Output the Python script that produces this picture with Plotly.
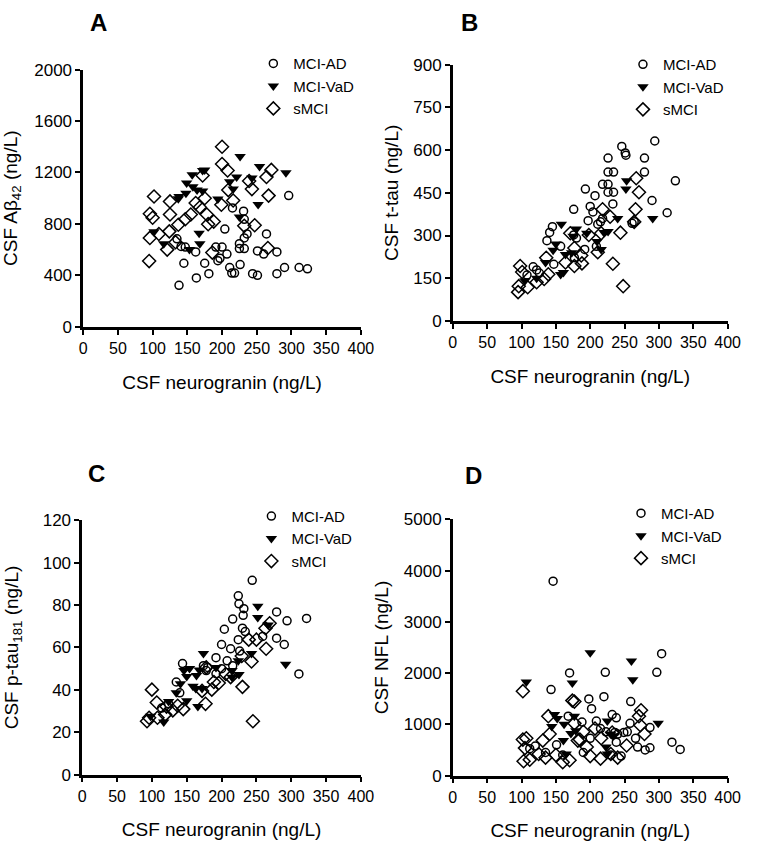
import plotly.graph_objects as go

# ---------------- DATA ----------------
# Panel A: CSF neurogranin vs CSF Abeta42
A_AD_x = [296, 215, 231, 204, 232, 236, 232, 264, 135, 225, 225, 232, 141, 147, 162, 191, 200, 251, 260, 279, 207, 194, 197, 145, 175, 226, 211, 290, 311, 323, 214, 218, 181, 244, 251, 279, 163, 138]
A_AD_y = [1020, 924, 899, 760, 836, 722, 691, 722, 684, 646, 608, 608, 625, 620, 582, 620, 620, 590, 565, 582, 565, 514, 532, 494, 494, 484, 461, 461, 461, 451, 418, 418, 413, 413, 400, 413, 380, 322]
A_VaD_x = [226, 254, 292, 172, 175, 157, 221, 243, 211, 149, 158, 164, 172, 216, 138, 148, 137, 194, 252, 225, 167, 168, 102, 116, 153]
A_VaD_y = [1324, 1246, 1198, 1215, 1220, 1182, 1165, 1157, 1127, 1119, 1089, 1063, 1056, 1071, 1013, 1038, 995, 993, 950, 853, 727, 646, 739, 646, 600]
A_sMCI_x = [200, 200, 208, 271, 264, 172, 239, 209, 243, 267, 102, 175, 125, 216, 199, 162, 168, 96, 100, 125, 155, 147, 178, 180, 188, 137, 232, 247, 124, 109, 96, 133, 121, 186, 266, 95]
A_sMCI_y = [1400, 1266, 1215, 1220, 1165, 1177, 1134, 1063, 1071, 1020, 1013, 1000, 975, 982, 949, 962, 929, 879, 848, 873, 873, 836, 873, 798, 818, 793, 785, 790, 742, 722, 691, 658, 600, 577, 613, 511]

# Panel B: CSF neurogranin vs CSF t-tau
B_AD_x = [294, 246, 251, 252, 226, 279, 226, 234, 279, 324, 218, 226, 193, 226, 234, 207, 290, 233, 176, 200, 204, 312, 197, 218, 211, 215, 261, 264, 145, 141, 137, 157, 176, 180, 192, 209, 147, 117, 122, 126, 108, 177]
B_AD_y = [632, 613, 590, 582, 572, 572, 523, 523, 523, 492, 480, 480, 463, 452, 452, 440, 423, 411, 392, 402, 383, 380, 352, 360, 340, 348, 343, 348, 331, 311, 282, 262, 302, 291, 251, 262, 199, 190, 179, 168, 161, 222]
B_VaD_x = [253, 252, 240, 291, 226, 220, 158, 180, 175, 195, 150, 210, 216, 146, 173, 164, 135, 157, 161, 105, 122]
B_VaD_y = [492, 463, 360, 360, 314, 311, 340, 323, 297, 308, 270, 279, 251, 248, 239, 233, 205, 163, 170, 141, 150]
B_sMCI_x = [267, 271, 266, 264, 218, 229, 244, 233, 248, 198, 216, 211, 187, 177, 188, 164, 171, 136, 139, 122, 109, 98, 101, 96, 95, 133, 177]
B_sMCI_y = [501, 452, 392, 348, 392, 366, 310, 201, 122, 302, 308, 241, 230, 193, 202, 205, 308, 222, 164, 136, 118, 193, 172, 122, 101, 147, 256]

# Panel C: CSF neurogranin vs CSF p-tau181
C_AD_x = [244, 224, 225, 232, 279, 322, 294, 216, 231, 204, 230, 234, 259, 279, 224, 290, 200, 213, 226, 192, 208, 216, 144, 174, 180, 192, 200, 311, 135, 140, 114, 124, 178]
C_AD_y = [91.7, 84.4, 80.6, 78.3, 76.8, 73.7, 72.6, 73.4, 75.2, 68.6, 69.1, 67.5, 65.2, 64.4, 63.7, 61.4, 61.4, 59.4, 58.3, 55.2, 53.7, 51.4, 52.4, 51.4, 50.6, 47.6, 50.0, 47.5, 43.7, 38.6, 31.4, 33.4, 49.1]
C_VaD_x = [252, 252, 267, 243, 292, 174, 154, 146, 168, 164, 150, 141, 159, 163, 172, 135, 150, 166, 192, 215, 224, 225, 215, 124, 117, 98]
C_VaD_y = [79.5, 74.1, 70.6, 57.2, 52.1, 57.2, 50.1, 49.1, 49.4, 46.8, 46.3, 42.9, 41.7, 40.6, 40.6, 38.6, 34.9, 32.1, 50.6, 49.1, 53.7, 47.2, 46.0, 34.5, 24.8, 27.5]
C_sMCI_x = [269, 263, 264, 239, 250, 229, 243, 206, 213, 196, 230, 186, 172, 177, 245, 100, 107, 121, 137, 130, 145, 108, 93, 96, 119, 178, 189]
C_sMCI_y = [71.4, 69.1, 59.4, 63.7, 63.7, 56.0, 53.4, 47.5, 46.0, 43.2, 41.4, 40.1, 39.5, 33.4, 25.2, 40.1, 34.0, 32.1, 32.5, 30.3, 30.9, 26.8, 25.2, 26.8, 28.3, 50.6, 43.7]

# Panel D: CSF neurogranin vs CSF NFL
D_AD_x = [146, 304, 297, 170, 222, 143, 198, 220, 259, 202, 168, 232, 238, 188, 209, 258, 287, 215, 223, 236, 240, 249, 254, 200, 151, 238, 266, 287, 269, 319, 331, 120, 112, 160, 190, 230, 245, 280, 135]
D_AD_y = [3794, 2378, 2016, 2003, 2016, 1679, 1495, 1540, 1444, 1305, 1159, 1190, 1127, 1044, 1063, 1019, 937, 917, 854, 841, 810, 841, 854, 727, 600, 651, 727, 543, 556, 651, 511, 575, 524, 400, 450, 400, 380, 500, 450]
D_VaD_x = [200, 260, 262, 107, 174, 299, 148, 152, 144, 162, 177, 172, 179, 161, 225, 230, 234, 223, 165, 225]
D_VaD_y = [2397, 2238, 1870, 1826, 1806, 1019, 1190, 1114, 959, 1000, 1159, 822, 873, 683, 1063, 810, 778, 556, 420, 420]
D_sMCI_x = [102, 174, 177, 139, 141, 107, 102, 131, 177, 190, 182, 185, 195, 207, 216, 232, 253, 274, 271, 273, 279, 105, 103, 112, 125, 135, 150, 160, 170, 200, 215, 230, 240]
D_sMCI_y = [1647, 1463, 1444, 1159, 810, 727, 702, 683, 1019, 854, 683, 702, 556, 917, 727, 841, 587, 1273, 1159, 981, 810, 536, 280, 310, 420, 350, 400, 260, 300, 380, 330, 420, 350]

GROUPS = ["MCI-AD", "MCI-VaD", "sMCI"]
X_TICKS = [0, 50, 100, 150, 200, 250, 300, 350, 400]
X_TITLE = "CSF neurogranin (ng/L)"
PANELS = [
    dict(letter="A", ytitle="CSF Aβ<sub>42</sub> (ng/L)", yrange=[0, 2000], dtick=400,
         data=[(A_AD_x, A_AD_y), (A_VaD_x, A_VaD_y), (A_sMCI_x, A_sMCI_y)]),
    dict(letter="B", ytitle="CSF t-tau (ng/L)", yrange=[0, 900], dtick=150,
         data=[(B_AD_x, B_AD_y), (B_VaD_x, B_VaD_y), (B_sMCI_x, B_sMCI_y)]),
    dict(letter="C", ytitle="CSF p-tau<sub>181</sub> (ng/L)", yrange=[0, 120], dtick=20,
         data=[(C_AD_x, C_AD_y), (C_VaD_x, C_VaD_y), (C_sMCI_x, C_sMCI_y)]),
    dict(letter="D", ytitle="CSF NFL (ng/L)", yrange=[0, 5000], dtick=1000,
         data=[(D_AD_x, D_AD_y), (D_VaD_x, D_VaD_y), (D_sMCI_x, D_sMCI_y)]),
]

# ---------------- LAYOUT ----------------
W, H = 766, 854
FONT = "Arial, Liberation Sans, sans-serif"

# pixel boxes: (left, right, top, bottom)
BOXES = [(81, 365, 62, 325), (459, 740, 57, 319), (80, 365, 523, 783), (459, 740, 522, 784)]
LEG_POS = [(255, 39), (633, 40), (253, 502), (631, 499)]
LETTER_POS = [(97, 14), (476, 14), (95, 475), (480, 477)]
YT_STANDOFF = [14, 10, 20, 11]

MARKERS = [
    dict(symbol="circle-open", size=8, color="black", line=dict(width=1.5, color="black")),
    dict(symbol="triangle-down", size=10, color="black", line=dict(width=0)),
    dict(symbol="diamond-open", size=10, color="black", line=dict(width=1.5, color="black")),
]

fig = go.Figure()
layout = dict(
    width=W, height=H, margin=dict(l=0, r=0, t=0, b=0),
    paper_bgcolor="white", plot_bgcolor="white",
    font=dict(family=FONT, color="black"),
    annotations=[],
)

for i, p in enumerate(PANELS):
    n = "" if i == 0 else str(i + 1)
    xa, ya = "x" + n, "y" + n
    leg = "legend" + n
    for g, (xs, ys) in enumerate(p["data"]):
        fig.add_trace(go.Scatter(
            x=xs, y=ys, mode="markers", name=GROUPS[g],
            marker=MARKERS[g], xaxis=xa, yaxis=ya, legend=leg,
            cliponaxis=False,
        ))
    l, r, t, b = BOXES[i]
    axis_common = dict(
        showline=True, linecolor="black", linewidth=2.5, mirror=False,
        ticks="outside", ticklen=5, tickwidth=2, tickcolor="black",
        showgrid=False, zeroline=False,
    )
    layout["xaxis" + n] = dict(
        domain=[l / W, r / W], range=[0, 400], tickvals=X_TICKS,
        anchor=ya, tickfont=dict(size=16),
        title=dict(text=X_TITLE, font=dict(size=19), standoff=20),
        **axis_common,
    )
    layout["yaxis" + n] = dict(
        domain=[1 - b / H, 1 - t / H], range=p["yrange"], dtick=p["dtick"],
        anchor=xa, tickfont=dict(size=17),
        title=dict(text=p["ytitle"], font=dict(size=19), standoff=YT_STANDOFF[i]),
        **axis_common,
    )
    lx, ly = LEG_POS[i]
    layout[leg] = dict(
        x=lx / W, y=1 - ly / H, xanchor="left", yanchor="top",
        font=dict(size=15), bgcolor="rgba(0,0,0,0)", borderwidth=0,
        itemwidth=30, tracegroupgap=0,
    )
    px_, py_ = LETTER_POS[i]
    layout["annotations"].append(dict(
        text="<b>%s</b>" % p["letter"], x=px_ / W, y=1 - py_ / H,
        xref="paper", yref="paper", showarrow=False,
        xanchor="center", yanchor="middle", font=dict(size=24),
    ))

fig.update_layout(**layout)
fig.write_html("out.html")
